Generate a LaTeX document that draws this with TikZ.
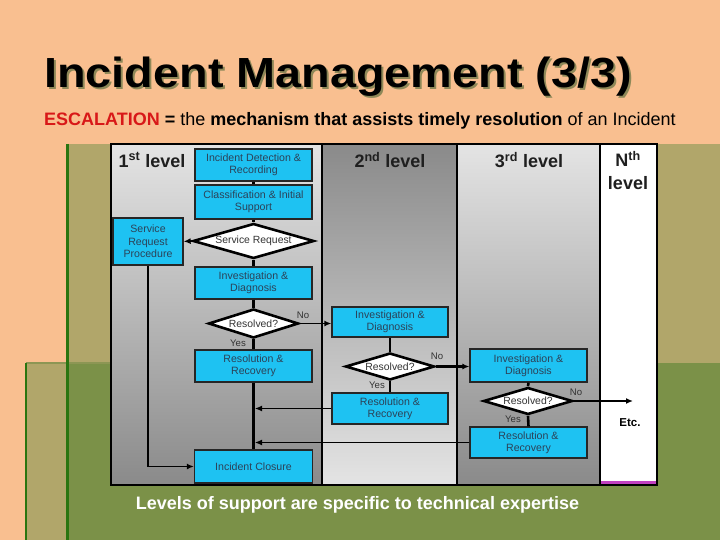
\documentclass[tikz,border=0pt]{standalone}
\usepackage{fontspec}
\setmainfont{Liberation Sans}
\usetikzlibrary{shapes.geometric,arrows.meta}
\definecolor{peach}{HTML}{F9BF90}
\definecolor{khaki}{HTML}{B1A66A}
\definecolor{olivegreen}{HTML}{7B9148}
\definecolor{dkgreen}{HTML}{2A7510}
\definecolor{edgeolive}{HTML}{8C9654}
\definecolor{boxcyan}{HTML}{1EC2F2}
\definecolor{boxtext}{HTML}{2C4258}
\definecolor{shadowcol}{HTML}{8E8858}
\definecolor{escred}{HTML}{D81818}
\definecolor{lanelight}{HTML}{E4E4E4}
\definecolor{lanedark}{HTML}{8A8A8A}
\definecolor{magline}{HTML}{C040C0}
\tikzset{
  procbox/.style={draw=black!85, line width=1.3pt, fill=boxcyan, inner sep=0pt,
    align=center, text=boxtext, font=\fontsize{10.6}{12.4}\selectfont},
  decbox/.style={draw=black, line width=2.6pt, fill=white, shape=diamond, inner sep=0pt},
  dectext/.style={text=black!80, font=\fontsize{10.4}{12}\selectfont},
  flowline/.style={line width=2.6pt, black},
  thinarrow/.style={line width=1.1pt, black, -{Latex[length=7pt,width=6pt]}},
  midarrow/.style={line width=1.6pt, black, -{Latex[length=7pt,width=6pt]}},
  yesno/.style={text=black!80, font=\fontsize{9.6}{11}\selectfont},
  lanehead/.style={font=\bfseries\fontsize{18}{20}\selectfont, text=black!88},
  titletext/.style={anchor=base west, inner sep=0pt, font=\bfseries\fontsize{46.8}{50}\selectfont},
}
\begin{document}
\begin{tikzpicture}[x=1pt,y=-1pt]
\useasboundingbox (0,0) rectangle (720,540);
% background
\fill[peach] (0,0) rectangle (720,540);
\fill[khaki] (67,144) rectangle (720,363);
\fill[olivegreen] (67,363) rectangle (720,540);
\fill[khaki] (26,363) rectangle (67,540);
\draw[edgeolive, line width=1.5pt] (26,363) -- (111,363);
\draw[dkgreen, line width=3pt] (67,144) -- (67,540);
\draw[dkgreen, line width=2.5pt] (26,363) -- (26,540);
% title with shadow
\node[titletext, text=black] (title) at (44,88)
  {\scalebox{1}[0.9]{\rlap{\hspace{2pt}\raisebox{-2.2pt}{\textcolor{shadowcol}{Incident Management (3/3)}}}Incident Management (3/3)}};
\node[anchor=base west, font=\fontsize{18}{20}\selectfont, text=black, inner sep=0pt] (sub) at (44,126)
  {\textbf{\textcolor{escred}{ESCALATION} =} the \textbf{mechanism that assists timely resolution} of an Incident};
% panel lanes
\shade[top color=lanelight, bottom color=lanedark] (111,144) rectangle (322,485);
\shade[top color=lanedark, bottom color=lanelight] (322,144) rectangle (457,485);
\shade[top color=lanelight, bottom color=lanedark] (457,144) rectangle (600,485);
\fill[white] (600,144) rectangle (657,485);
\draw[magline, line width=3pt] (601,482.5) -- (656,482.5);
\draw[black, line width=1.4pt] (111,144) rectangle (657,485);
\draw[black, line width=1.4pt] (322,144) -- (322,485);
\draw[black, line width=1.4pt] (457,144) -- (457,485);
\draw[black, line width=1.6pt] (600,144) -- (600,485);
% lane headers
\node[lanehead] (h1) at (152,160) {1\textsuperscript{st} level};
\node[lanehead] (h2) at (390,160) {2\textsuperscript{nd} level};
\node[lanehead] (h3) at (529,160) {3\textsuperscript{rd} level};
\node[lanehead] (h4a) at (628,159) {N\textsuperscript{th}};
\node[lanehead] (h4b) at (628,183) {level};
% level 1
\node[procbox, minimum width=117pt, minimum height=32pt] (det) at (253.5,165) {Incident Detection \&\\Recording};
\node[procbox, minimum width=117pt, minimum height=34pt] (cls) at (253.5,202) {Classification \& Initial\\Support};
\node[decbox, minimum width=121pt, minimum height=35pt] (sr) at (253.5,241) {};
\node[dectext] (srt) at (253.5,241) {Service Request};
\node[procbox, minimum width=70pt, minimum height=47pt] (srp) at (148,241.5) {Service\\Request\\Procedure};
\node[procbox, minimum width=117pt, minimum height=32pt] (inv1) at (253.5,283) {Investigation \&\\Diagnosis};
\node[decbox, minimum width=90pt, minimum height=29pt] (rd1) at (253.5,323.5) {};
\node[dectext] (rd1t) at (253.5,323.5) {Resolved?};
\node[procbox, minimum width=117pt, minimum height=32pt] (rr1) at (253.5,366) {Resolution \&\\Recovery};
\node[procbox, minimum width=118pt, minimum height=33pt] (clos) at (253.5,466.5) {Incident Closure};
% level 2
\node[procbox, minimum width=116pt, minimum height=30pt] (inv2) at (390,322) {Investigation \&\\Diagnosis};
\node[decbox, minimum width=89pt, minimum height=27pt] (rd2) at (390,366.5) {};
\node[dectext] (rd2t) at (390,366.5) {Resolved?};
\node[procbox, minimum width=116pt, minimum height=31pt] (rr2) at (390,408.5) {Resolution \&\\Recovery};
% level 3
\node[procbox, minimum width=117pt, minimum height=33pt] (inv3) at (528.5,365.5) {Investigation \&\\Diagnosis};
\node[decbox, minimum width=89pt, minimum height=27pt] (rd3) at (528,401) {};
\node[dectext] (rd3t) at (528,401) {Resolved?};
\node[procbox, minimum width=117pt, minimum height=31pt] (rr3) at (528.5,442.5) {Resolution \&\\Recovery};
\coordinate (etcend) at (633,401);
\node[font=\bfseries\fontsize{11.5}{13}\selectfont] (etc) at (630,423) {Etc.};
% vertical flow lines
\draw[flowline] (det.south) -- (cls.north);
\draw[flowline] (cls.south) -- (sr.north);
\draw[flowline] (sr.south) -- (inv1.north);
\draw[flowline] (inv1.south) -- (rd1.north);
\draw[flowline] (rd1.south) -- (rr1.north);
\draw[flowline] (rr1.south) -- (clos.north);
\draw[flowline] (inv2.south) -- (rd2.north);
\draw[flowline] (rd2.south) -- (rr2.north);
\draw[flowline] (inv3.south) -- (rd3.north);
\draw[flowline] (rd3.south) -- (rr3.north);
% arrows
\draw[midarrow] (sr.west) -- (srp.east);
\draw[midarrow] (srp.south) |- (clos.west);
\draw[midarrow] (rd1.east) -- (rd1.east -| inv2.west);
\draw[flowline, -{Latex[length=7pt,width=6pt]}, line width=2.2pt] (rd2.east) -- (rd2.east -| inv3.west);
\draw[midarrow] (rd3.east) -- (etcend);
\draw[thinarrow] (rr2.west) -- ([xshift=1.5pt]rr2.west -| rr1.south);
\draw[thinarrow] (rr3.west) -- ([xshift=1.5pt]rr3.west -| rr1.south);
% yes/no labels
\node[yesno] (no1) at (303,315) {No};
\node[yesno] (yes1) at (238,343) {Yes};
\node[yesno] (no2) at (437,356) {No};
\node[yesno] (yes2) at (377,385) {Yes};
\node[yesno] (no3) at (576,392) {No};
\node[yesno] (yes3) at (513,419) {Yes};
% caption
\node[text=white, font=\bfseries\fontsize{18}{20}\selectfont] (cap) at (357.5,505) {Levels of support are specific to technical expertise};
\end{tikzpicture}
\end{document}
